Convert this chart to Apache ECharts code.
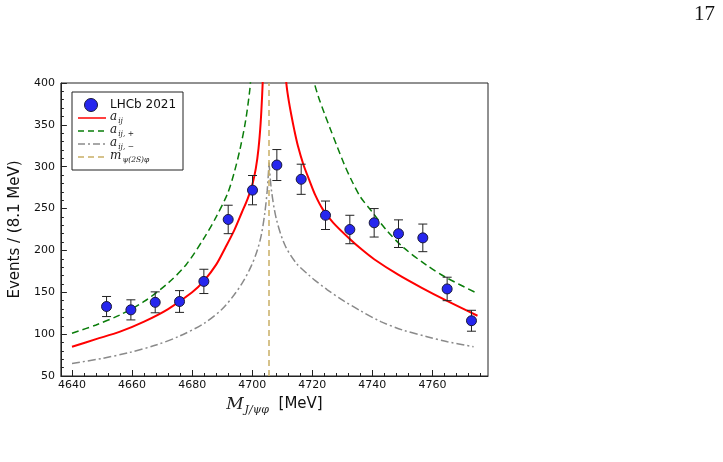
<!DOCTYPE html>
<html>
<head>
<meta charset="utf-8">
<script src="https://cdn.jsdelivr.net/npm/echarts@6/dist/echarts.min.js"></script>
<style>
html, body { margin: 0; padding: 0; background: #fff; }
#main { width: 723px; height: 462px; }
</style>
</head>
<body>
<div id="main"></div>
<script>
// LHCb 2021 points (bin centres, MeV)
var mass = [4651.5, 4659.6, 4667.7, 4675.8, 4683.9, 4692.0, 4700.1, 4708.2,
            4716.3, 4724.4, 4732.5, 4740.6, 4748.7, 4756.8, 4764.9, 4773.0];
var events = [133, 129, 138, 139, 163, 237, 272, 302, 285, 242, 225, 233, 220, 215, 154, 116];
var errors = [12, 12, 12.5, 13, 14.5, 17, 17.5, 18.5, 18, 17, 17, 17, 16.5, 16.5, 14, 12.5];

// curves, [mass, events]
var aijLeft = [[4640, 85], [4648, 94], [4656, 103], [4664, 115], [4672, 130], [4680, 150],
  [4684, 164], [4688, 183], [4691, 203], [4694, 224], [4696.5, 245], [4698.5, 262],
  [4700, 278], [4701.2, 298], [4702.1, 322], [4702.8, 352], [4703.3, 385], [4703.7, 420]];
var aijRight = [[4711.0, 415], [4711.5, 395], [4712.2, 378], [4713, 362], [4714, 344],
  [4715.2, 325], [4717, 303], [4719, 284], [4721, 266], [4723.5, 249], [4727, 233],
  [4732.4, 214], [4736.5, 201], [4740.6, 189.5], [4748.6, 171], [4756.6, 155],
  [4764.7, 140], [4775, 122]];
var aijPlusLeft = [[4640, 101], [4648, 111], [4656, 123], [4664, 139], [4672, 161],
  [4678, 183], [4684, 215], [4688, 240], [4691.8, 268], [4694, 293], [4696, 322],
  [4697.8, 355], [4699.2, 392], [4699.6, 410]];
var aijPlusRight = [[4720.3, 410], [4720.7, 400], [4722, 384], [4724, 364], [4726, 345],
  [4728.4, 323], [4730.5, 304], [4732.9, 285], [4736, 264], [4739.5, 248], [4745, 223],
  [4750.5, 203], [4758.2, 182], [4764.9, 167], [4774.8, 149]];
var aijMinusLeft = [[4640, 65], [4650, 71], [4659, 78], [4668, 87], [4676, 98], [4684, 113],
  [4690, 130], [4694, 147], [4697, 163], [4699.5, 180], [4701.5, 198], [4703, 218],
  [4704.2, 245], [4705, 272], [4705.6, 305]];
var aijMinusRight = [[4705.6, 305], [4706.4, 272], [4708, 238], [4710.8, 207],
  [4714.6, 185], [4719, 170], [4721, 164], [4725, 153], [4730.6, 139.5], [4736, 128],
  [4742.8, 115], [4750, 105], [4758.2, 97], [4765, 91], [4773.7, 85]];
var threshold = 4705.6; // m_psi(2S) + m_phi

var xTicks = [4640, 4660, 4680, 4700, 4720, 4740, 4760];
var xMinor = [];
for (var t = 4644; t < 4778; t += 4) {
  if (xTicks.indexOf(t) < 0) xMinor.push(t);
}

var myChart = echarts.init(document.getElementById('main'));

var sans = 'DejaVu Sans';
var serif = 'DejaVu Serif';

function curve(name, data, color, width, type) {
  return {
    name: name,
    type: 'line',
    data: data,
    smooth: 0.3,
    showSymbol: false,
    symbol: 'none',
    clip: true,
    silent: true,
    lineStyle: { color: color, width: width, type: type },
    z: 3
  };
}

var errData = mass.map(function (m, i) {
  return [m, events[i] - errors[i], events[i] + errors[i]];
});

var subRich = {
  a: { fontFamily: serif, fontStyle: 'italic', fontSize: 12, fill: '#222' },
  s: { fontFamily: serif, fontStyle: 'italic', fontSize: 7.5, fill: '#222', padding: [8, 0, 0, 1] }
};

var option = {
  animation: false,
  backgroundColor: '#fff',
  grid: {
    left: 58, top: 83, width: 430, height: 293,
    show: true, borderColor: '#222', borderWidth: 1, backgroundColor: 'transparent'
  },
  xAxis: [{
    type: 'value',
    min: 4636.3,
    max: 4778.5,
    name: '{m|M}{s|J/ψφ}{u|  [MeV]}',
    nameLocation: 'middle',
    nameGap: 11,
    nameTextStyle: {
      rich: {
        m: { fontFamily: serif, fontStyle: 'italic', fontSize: 17, color: '#222' },
        s: { fontFamily: serif, fontStyle: 'italic', fontSize: 11, color: '#222', padding: [12, 0, 0, 1] },
        u: { fontFamily: sans, fontSize: 15, color: '#111' }
      }
    },
    axisLine: { lineStyle: { color: '#222', width: 1 } },
    axisTick: { inside: true, length: 6, customValues: xTicks, lineStyle: { color: '#222' } },
    axisLabel: {
      customValues: xTicks, fontFamily: sans, fontSize: 11, color: '#111', margin: 4,
      formatter: function (v) { return String(v); }
    },
    splitLine: { show: false }
  }, {
    type: 'value',
    min: 4636.3,
    max: 4778.5,
    position: 'bottom',
    axisLine: { show: false },
    axisTick: { inside: true, length: 3, customValues: xMinor, lineStyle: { color: '#222' } },
    axisLabel: { show: false },
    splitLine: { show: false }
  }],
  yAxis: {
    type: 'value',
    min: 50,
    max: 400,
    interval: 50,
    name: 'Events / (8.1 MeV)',
    nameLocation: 'middle',
    nameGap: 37,
    nameTextStyle: { fontFamily: sans, fontSize: 15, color: '#111' },
    axisLine: { show: true, lineStyle: { color: '#222', width: 1 } },
    axisTick: { show: true, inside: true, length: 6, lineStyle: { color: '#222' } },
    minorTick: { show: true, splitNumber: 5, length: 3, lineStyle: { color: '#222' } },
    axisLabel: { fontFamily: sans, fontSize: 11, color: '#111', margin: 6 },
    splitLine: { show: false }
  },
  series: [
    curve('aij', aijLeft, '#ff0000', 2, 'solid'),
    curve('aij', aijRight, '#ff0000', 2, 'solid'),
    curve('aij+', aijPlusLeft, '#0a7d0a', 1.5, [7, 4]),
    curve('aij+', aijPlusRight, '#0a7d0a', 1.5, [7, 4]),
    curve('aij-', aijMinusLeft, '#8a8a8a', 1.5, [8, 3, 2, 3]),
    curve('aij-', aijMinusRight, '#8a8a8a', 1.5, [8, 3, 2, 3]),
    {
      name: 'threshold',
      type: 'line',
      data: [],
      markLine: {
        silent: true,
        symbol: 'none',
        label: { show: false },
        lineStyle: { color: '#c9ae66', width: 1.5, type: [6, 4] },
        data: [{ xAxis: threshold }]
      }
    },
    {
      name: 'err',
      type: 'custom',
      data: errData,
      z: 4,
      renderItem: function (params, api) {
        var x = api.value(0);
        var top = api.coord([x, api.value(2)]);
        var bot = api.coord([x, api.value(1)]);
        var w = 4.5;
        var st = { stroke: '#222', lineWidth: 1 };
        return {
          type: 'group',
          children: [
            { type: 'line', shape: { x1: top[0], y1: top[1], x2: bot[0], y2: bot[1] }, style: st },
            { type: 'line', shape: { x1: top[0] - w, y1: top[1], x2: top[0] + w, y2: top[1] }, style: st },
            { type: 'line', shape: { x1: bot[0] - w, y1: bot[1], x2: bot[0] + w, y2: bot[1] }, style: st }
          ]
        };
      }
    },
    {
      name: 'LHCb 2021',
      type: 'scatter',
      data: mass.map(function (m, i) { return [m, events[i]]; }),
      symbolSize: 10,
      z: 5,
      itemStyle: { color: '#2626ee', borderColor: '#1a1a3a', borderWidth: 1, opacity: 1 }
    }
  ],
  graphic: [
    // page number
    { type: 'text', left: 694, top: 4, style: { text: '17', font: '21px "Liberation Serif"', fill: '#111' } },
    // legend box
    { type: 'rect', shape: { x: 72, y: 92, width: 111, height: 78 }, style: { fill: '#fff', stroke: '#222', lineWidth: 1 }, z: 10 },
    { type: 'circle', shape: { cx: 91, cy: 105, r: 6.5 }, style: { fill: '#2626ee', stroke: '#1a1a3a', lineWidth: 1 }, z: 11 },
    { type: 'text', x: 110, y: 105, style: { text: 'LHCb 2021', font: '12px "DejaVu Sans"', fill: '#111', verticalAlign: 'middle' }, z: 11 },
    { type: 'line', shape: { x1: 78, y1: 118, x2: 106, y2: 118 }, style: { stroke: '#ff0000', lineWidth: 1.5 }, z: 11 },
    { type: 'line', shape: { x1: 78, y1: 131, x2: 106, y2: 131 }, style: { stroke: '#0a7d0a', lineWidth: 1.5, lineDash: [6, 4] }, z: 11 },
    { type: 'line', shape: { x1: 78, y1: 144, x2: 106, y2: 144 }, style: { stroke: '#8a8a8a', lineWidth: 1.5, lineDash: [7, 3, 2, 3] }, z: 11 },
    { type: 'line', shape: { x1: 78, y1: 157, x2: 106, y2: 157 }, style: { stroke: '#c9ae66', lineWidth: 1.5, lineDash: [6, 4] }, z: 11 },
    { type: 'text', x: 110, y: 117, z: 11, style: { text: '{a|a}{s|ij}', verticalAlign: 'middle', rich: subRich } },
    { type: 'text', x: 110, y: 130, z: 11, style: { text: '{a|a}{s|ij, +}', verticalAlign: 'middle', rich: subRich } },
    { type: 'text', x: 110, y: 143, z: 11, style: { text: '{a|a}{s|ij, −}', verticalAlign: 'middle', rich: subRich } },
    { type: 'text', x: 110, y: 156, z: 11, style: { text: '{a|m}{s|ψ(2S)φ}', verticalAlign: 'middle', rich: subRich } }
  ]
};

myChart.setOption(option);
window.addEventListener('resize', function () {
  myChart.resize();
});
</script>
</body>
</html>
